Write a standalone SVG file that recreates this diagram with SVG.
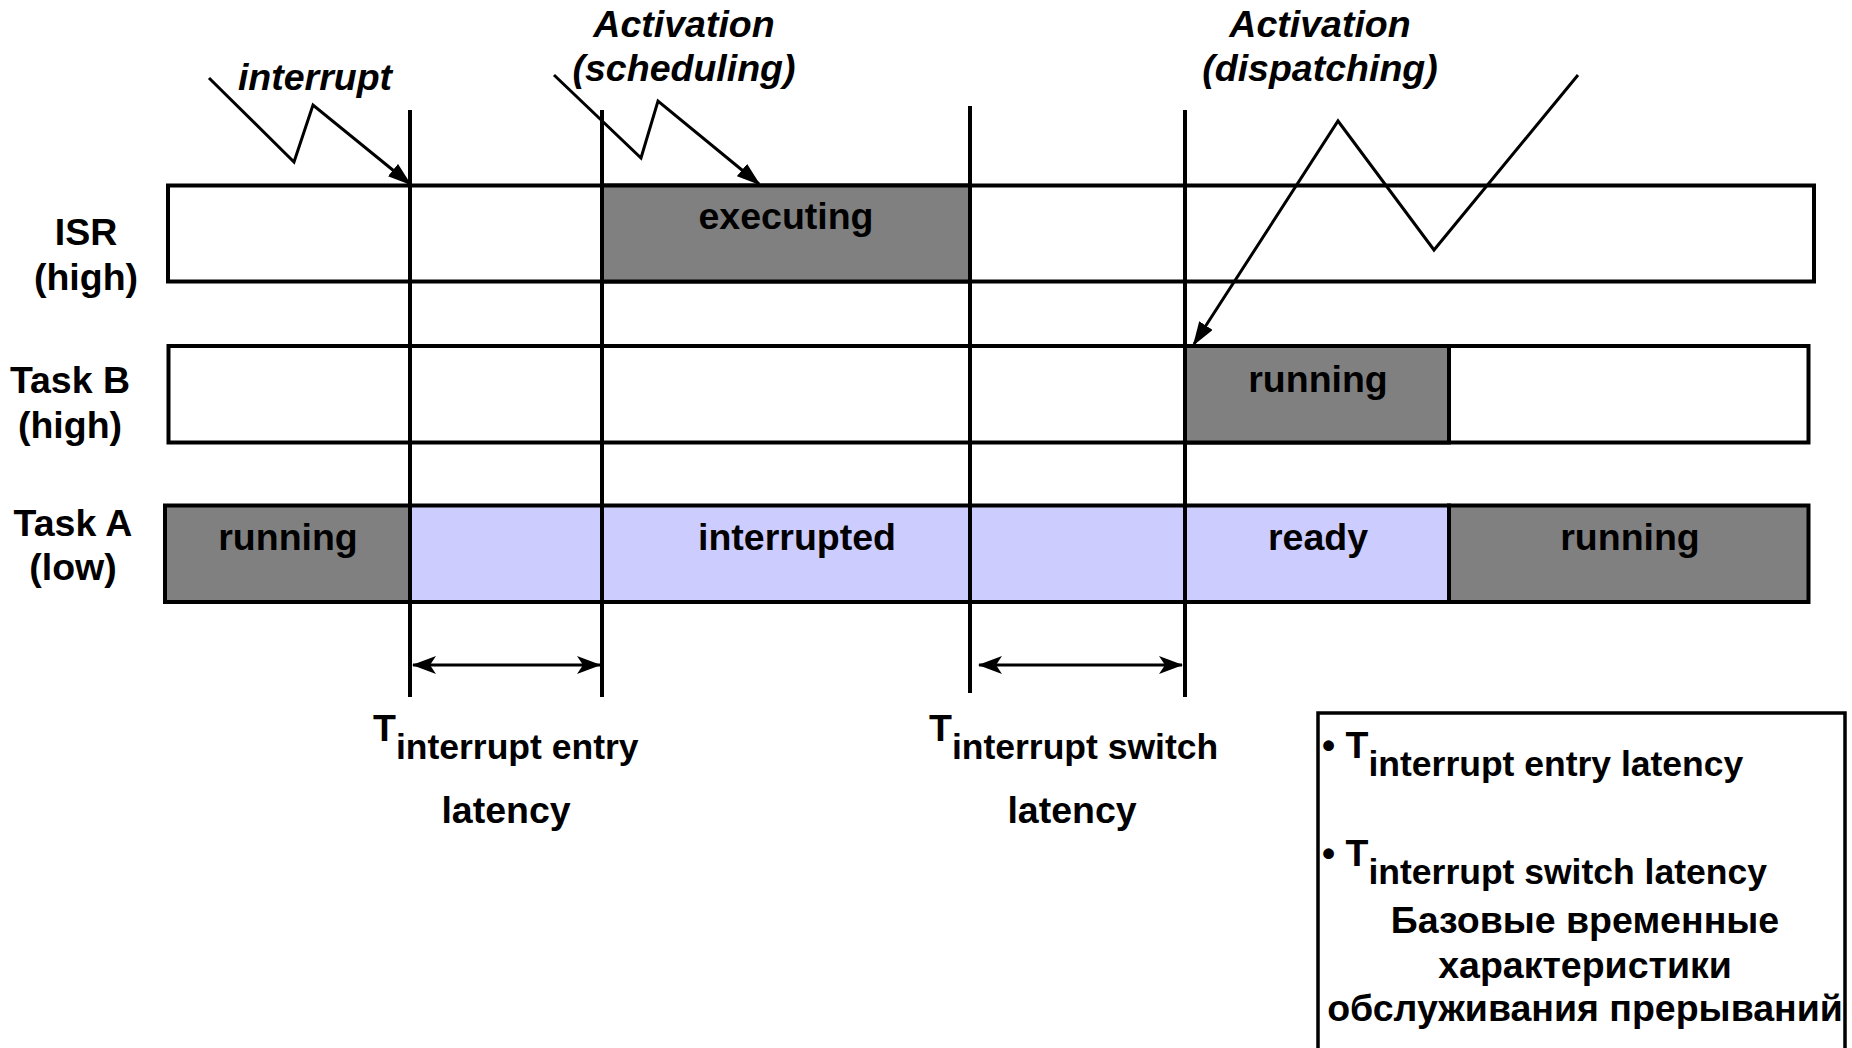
<svg xmlns="http://www.w3.org/2000/svg" width="1852" height="1048" viewBox="0 0 1852 1048">
<style>
.t{font-family:"Liberation Sans",Arial,sans-serif;font-weight:bold;font-size:37.5px;fill:#000}
.s{font-size:35.5px}
.c{text-anchor:middle}
.i{font-style:italic}
.box{stroke:#000;stroke-width:4}
.vl{stroke:#000;stroke-width:4;fill:none}
.ln{stroke:#000;stroke-width:3;fill:none}
</style>
<defs>
<marker id="zh" markerUnits="userSpaceOnUse" markerWidth="24" markerHeight="16" viewBox="0 0 24 16" refX="22" refY="8" orient="auto"><path d="M0,0 L24,8 L0,16 z" fill="#000"/></marker>
<marker id="dh" markerUnits="userSpaceOnUse" markerWidth="24" markerHeight="18" viewBox="0 0 24 18" refX="23" refY="9" orient="auto-start-reverse"><path d="M0,0 L24,9 L0,18 L6,9 z" fill="#000"/></marker>
</defs>
<rect width="1852" height="1048" fill="#fff"/>

<g id="row-isr">
<rect class="box" x="168" y="185.5" width="1646" height="96" fill="#fff"/>
<rect class="box" x="602" y="185.5" width="368" height="96" fill="#808080"/>
<text class="t c" x="786" y="229">executing</text>
</g>
<g id="row-taskb">
<rect class="box" x="168.5" y="346" width="1640" height="96.5" fill="#fff"/>
<rect class="box" x="1185" y="346" width="264" height="96.5" fill="#808080"/>
<text class="t c" x="1318" y="392">running</text>
</g>
<g id="row-taska">
<rect class="box" x="165" y="505.5" width="245" height="96.5" fill="#808080"/>
<rect class="box" x="410" y="505.5" width="1039" height="96.5" fill="#ccccff"/>
<rect class="box" x="1449" y="505.5" width="359.5" height="96.5" fill="#808080"/>
<text class="t c" x="288" y="550">running</text>
<text class="t c" x="797" y="550">interrupted</text>
<text class="t c" x="1318" y="550">ready</text>
<text class="t c" x="1630" y="550">running</text>
</g>

<g id="label-isr"><text class="t c" x="86" y="245">ISR</text><text class="t c" x="86" y="290">(high)</text></g>
<g id="label-taskb"><text class="t c" x="70" y="393">Task B</text><text class="t c" x="70" y="438">(high)</text></g>
<g id="label-taska"><text class="t c" x="73" y="536">Task A</text><text class="t c" x="73" y="580">(low)</text></g>

<g id="label-interrupt"><text class="t i c" x="315" y="90">interrupt</text></g>
<g id="label-scheduling"><text class="t i c" x="684" y="37">Activation</text><text class="t i c" x="684" y="81">(scheduling)</text></g>
<g id="label-dispatching"><text class="t i c" x="1320" y="37">Activation</text><text class="t i c" x="1320" y="81">(dispatching)</text></g>

<g id="label-entry">
<text class="t" x="373" y="741">T<tspan class="s" dy="18">interrupt entry</tspan></text>
<text class="t c" x="506" y="823">latency</text>
</g>
<g id="label-switch">
<text class="t" x="929" y="741">T<tspan class="s" dy="18">interrupt switch</tspan></text>
<text class="t c" x="1072" y="823">latency</text>
</g>

<g id="legend">
<path d="M1318,1050 V713 H1845 V1050" fill="none" stroke="#000" stroke-width="3.5"/>
<text class="t" x="1322" y="758">• T<tspan class="s" dy="18">interrupt entry latency</tspan></text>
<text class="t" x="1322" y="866">• T<tspan class="s" dy="18">interrupt switch latency</tspan></text>
<text class="t c" x="1585" y="933">Базовые временные</text>
<text class="t c" x="1585" y="978">характеристики</text>
<text class="t c" x="1585" y="1021">обслуживания прерываний</text>
</g>

<g id="connectors">
<line class="vl" x1="410" y1="110" x2="410" y2="697"/>
<line class="vl" x1="602" y1="110" x2="602" y2="697"/>
<line class="vl" x1="970" y1="106" x2="970" y2="693"/>
<line class="vl" x1="1185" y1="110" x2="1185" y2="697"/>
<polyline class="ln" points="209,78 294,162 313,105 410,184" marker-end="url(#zh)"/>
<polyline class="ln" points="554,75 641,158 658,101 759,184" marker-end="url(#zh)"/>
<polyline class="ln" points="1578,75 1434,250 1338,121 1194,344" marker-end="url(#zh)"/>
<line class="ln" x1="413" y1="665" x2="600" y2="665" marker-start="url(#dh)" marker-end="url(#dh)"/>
<line class="ln" x1="979" y1="665" x2="1182" y2="665" marker-start="url(#dh)" marker-end="url(#dh)"/>
</g>
</svg>
